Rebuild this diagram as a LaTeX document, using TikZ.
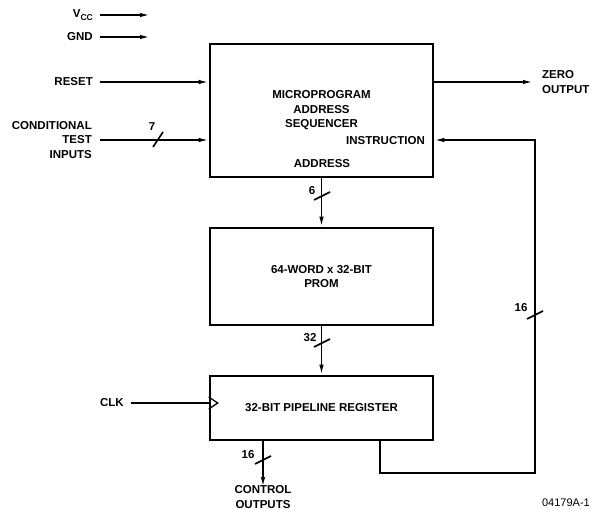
\documentclass[tikz,border=0pt]{standalone}
\usepackage{fontspec}
\setmainfont{Liberation Sans}
\usetikzlibrary{arrows.meta,positioning,calc}

\tikzset{
  blk/.style={draw, line width=2.6pt, minimum width=223pt, inner sep=0pt},
  sig/.style={line width=1.6pt, -{Latex[length=10pt,width=4.5pt]}},
  wire/.style={line width=1.6pt},
  lbl/.style={inner sep=0pt, font=\bfseries\fontsize{11.5}{14.5}\selectfont},
}

\begin{document}
\begin{tikzpicture}[x=1pt,y=-1pt]
  \useasboundingbox (0,0) rectangle (594,510);

  % blocks
  \node[blk, minimum height=133pt, lbl, align=center] (seq) at (321.5,110.5) {MICROPROGRAM\\ADDRESS\\SEQUENCER};
  \node[blk, minimum height=97pt, lbl, align=center] (prom) at (321.5,276.5) {64-WORD x 32-BIT\\PROM};
  \node[blk, minimum height=64pt, lbl] (pipe) at (321.5,408) {32-BIT PIPELINE REGISTER};
  \node[lbl, anchor=east] (instr) at (425,141) {INSTRUCTION};
  \node[lbl] (addr) at (322,164) {ADDRESS};

  % inputs
  \node[lbl, anchor=east] (vcc) at (93,15) {V\raisebox{-0.45ex}{\fontsize{8.5}{9}\selectfont CC}};
  \node[lbl, anchor=east] (gnd) at (93,37) {GND};
  \node[lbl, anchor=east] (reset) at (93,82) {RESET};
  \node[lbl, anchor=east, align=right] (cond) at (92,140) {CONDITIONAL\\TEST\\INPUTS};
  \node[lbl, anchor=east] (clk) at (124,403) {CLK};
  \coordinate (vccend) at (150,15);
  \coordinate (gndend) at (150,37);
  \draw[sig] (100,15) -- (vccend);
  \draw[sig] (100,37) -- (gndend);
  \draw[sig] (100,82) -- (seq.west |- 0,82);
  \draw[sig] (100,140) -- (seq.west |- 0,140);
  \draw[wire] (153,147) -- (163,132);
  \node[lbl] (n7) at (152,127) {7};
  \draw[wire] (131,403) -- (pipe.west |- 0,403);
  \draw[line width=1.3pt] (pipe.west |- 0,397) -- ++(9,6) -- ++(-9,6);

  % outputs
  \node[lbl, anchor=west, align=left] (zero) at (542,82) {ZERO\\OUTPUT};
  \draw[sig] (seq.east |- 0,82) -- (533,82);

  % buses
  \draw[sig] (seq.south) -- (prom.north);
  \draw[wire] (314,200) -- (330,192);
  \node[lbl] (n6) at (312,191) {6};
  \draw[sig] (prom.south) -- (pipe.north);
  \draw[wire] (314,347) -- (330,339);
  \node[lbl] (n32) at (310,338) {32};

  \draw[sig] (pipe.south -| 263,0) -- (263,487);
  \draw[wire] (255,464) -- (271,456);
  \node[lbl] (n16b) at (248,455) {16};
  \node[lbl, align=center] (ctrl) at (263,497) {CONTROL\\OUTPUTS};

  % feedback
  \draw[sig] (pipe.south -| 380,0) -- (380,473) -- (535,473) -- (535,140) -- (seq.east |- 0,140);
  \draw[wire] (527,319) -- (543,311);
  \node[lbl] (n16a) at (521,308) {16};

  \node[inner sep=0pt, anchor=east, font=\fontsize{11}{12}\selectfont] (fig) at (590,503) {04179A-1};
\end{tikzpicture}
\end{document}
